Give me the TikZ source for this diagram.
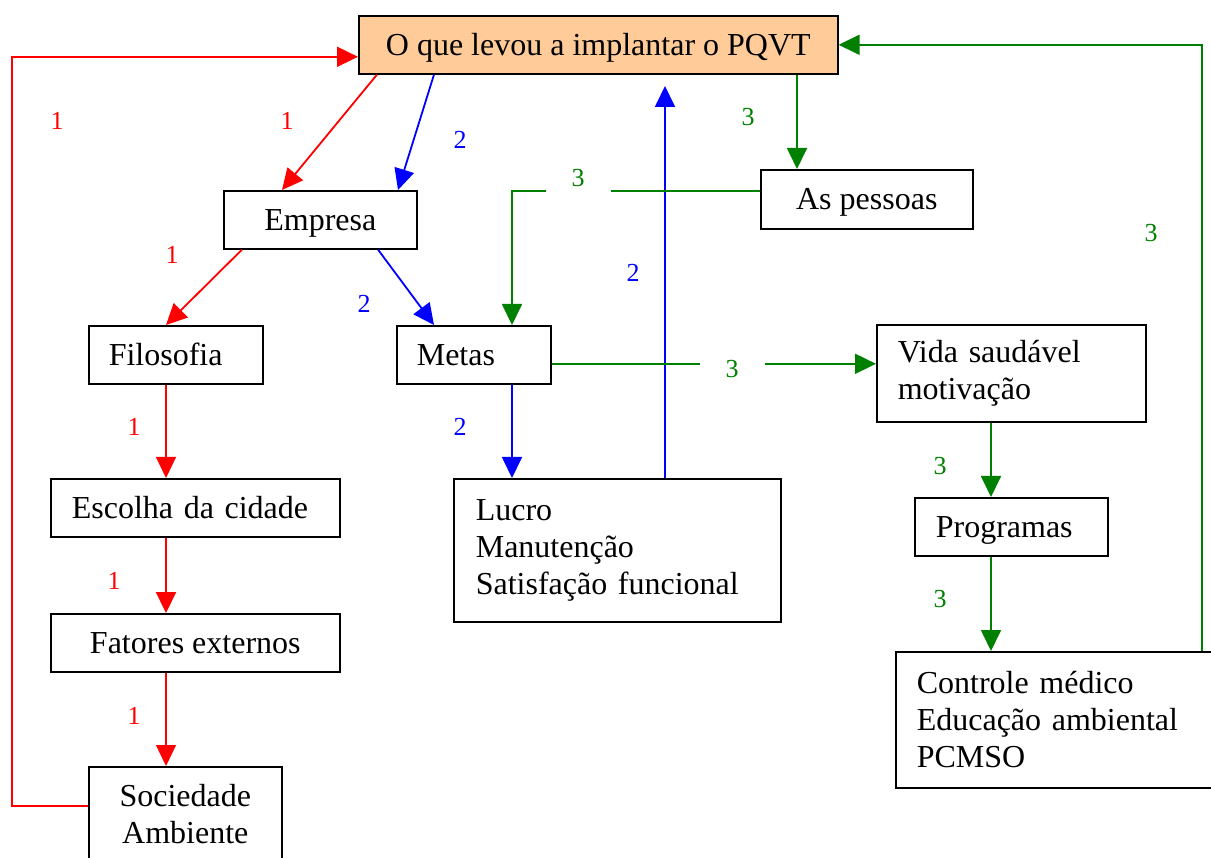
\documentclass[tikz,border=0pt]{standalone}
\usepackage{fontspec}
\setmainfont{Liberation Serif}
\usetikzlibrary{arrows.meta}
\definecolor{boxorange}{HTML}{FFCC99}
\definecolor{grn}{RGB}{0,128,0}
\newcommand\bxfont{\fontsize{32}{37}\selectfont}
\newcommand\lbfont{\fontsize{26}{30}\selectfont}

\begin{document}
\begin{tikzpicture}[x=1pt,y=-1pt,
  box/.style={draw, line width=1.6pt, font=\bxfont, anchor=north west, inner ysep=0pt},
  sbox/.style={box, text height=21pt, text depth=0pt},
  cbox/.style={sbox, align=center, inner xsep=0pt},
  lbox/.style={sbox, align=left, inner xsep=21pt},
  mcbox/.style={box, align=center, inner xsep=0pt},
  mlbox/.style={box, align=left, inner xsep=21pt},
  conn/.style={line width=1.8pt, -{Triangle[length=21pt,width=20pt]}},
  lbl/.style={font=\lbfont, inner sep=0pt},
]
\useasboundingbox (0,0) rectangle (1211,858);
\clip (0,0) rectangle (1211,858);

% boxes
\node[cbox, fill=boxorange, minimum width=479pt, minimum height=58pt] (top) at (358,15) {O que levou a implantar o PQVT};
\node[cbox, minimum width=193pt, minimum height=58pt] (emp) at (223,190) {Empresa};
\node[cbox, minimum width=212pt, minimum height=59pt] (pes) at (760,169) {As pessoas};
\node[lbox, inner xsep=20pt, text width=134pt, minimum height=58pt] (fil) at (88,325) {Filosofia};
\node[lbox, inner xsep=20pt, text width=114pt, minimum height=58pt] (metas) at (396,325) {Metas};
\node[mlbox, text width=227pt, minimum height=97pt] (vida) at (876,324) {Vida saudável\\motivação};
\node[lbox, text width=247pt, minimum height=58pt] (esc) at (50,478) {Escolha da cidade};
\node[mlbox, inner xsep=22pt, text width=283pt, minimum height=143pt] (lucro) at (453,478) {Lucro\\Manutenção\\Satisfação funcional};
\node[lbox, text width=151pt, minimum height=58pt] (prog) at (914,497) {Programas};
\node[cbox, minimum width=289pt, minimum height=58pt] (fat) at (50,613) {Fatores externos};
\node[mlbox, text width=285pt, minimum height=136pt] (ctl) at (895,651) {Controle médico\\Educação ambiental\\PCMSO};
\node[mcbox, minimum width=193pt, minimum height=94pt] (soc) at (88,766) {Sociedade\\Ambiente};

% path 1 (red)
\draw[conn, red] ([xshift=19pt]top.south west) -- ([xshift=59pt]emp.north west);
\draw[conn, red] ([xshift=19pt]emp.south west) -- ([xshift=78pt]fil.north west);
\draw[conn, red, line width=1.3pt] ([xshift=78pt]fil.south west) -- ([xshift=116pt]esc.north west);
\draw[conn, red, line width=2.3pt] ([xshift=116pt]esc.south west) -- ([xshift=116pt]fat.north west);
\draw[conn, red, line width=1.3pt] ([xshift=116pt]fat.south west) -- ([xshift=78pt]soc.north west);
\draw[conn, red] ([yshift=8pt]soc.west) -- ++(-76,0) |- ([yshift=-12pt]top.west);

% path 2 (blue)
\draw[conn, blue] ([xshift=76pt]top.south west) -- ([xshift=175pt]emp.north west);
\draw[conn, blue] ([xshift=155pt]emp.south west) -- ([xshift=38pt]metas.north west);
\draw[conn, blue] ([xshift=116pt]metas.south west) -- ([xshift=59pt]lucro.north west);
\coordinate (uptip) at (665,86);
\draw[conn, blue] ([xshift=212pt]lucro.north west) -- (uptip);

% path 3 (green)
\draw[conn, grn] ([xshift=439pt]top.south west) -- ([xshift=37pt]pes.north west);
\draw[conn, grn] ([yshift=8.5pt]pes.west) -| ([xshift=116pt]metas.north west);
\coordinate (metasout) at ([yshift=-9pt]metas.east);
\draw[conn, grn] (metasout) -- (metasout -| vida.west);
\draw[conn, grn] ([xshift=115pt]vida.south west) -- ([xshift=77pt]prog.north west);
\draw[conn, grn] ([xshift=77pt]prog.south west) -- ([xshift=96pt]ctl.north west);
\draw[conn, grn] ([xshift=307pt]ctl.north west) |- (top.east);

% step labels
\node[lbl, red] (r1) at (57,121) {1};
\node[lbl, red] (r2) at (287,121) {1};
\node[lbl, red] (r3) at (172,255) {1};
\node[lbl, red] (r4) at (134,427) {1};
\node[lbl, red] (r5) at (114,581) {1};
\node[lbl, red] (r6) at (134,716) {1};
\node[lbl, blue] (b1) at (460,140) {2};
\node[lbl, blue] (b2) at (364,304) {2};
\node[lbl, blue] (b3) at (633,273) {2};
\node[lbl, blue] (b4) at (460,427) {2};
\node[lbl, grn] (g1) at (748,117) {3};
\node[lbl, grn, fill=white, inner xsep=26pt, inner ysep=5pt] (g2) at (578,178) {3};
\node[lbl, grn, fill=white, inner xsep=26pt, inner ysep=5pt] (g3) at (732,369) {3};
\node[lbl, grn] (g4) at (940,466) {3};
\node[lbl, grn] (g5) at (940,599) {3};
\node[lbl, grn] (g6) at (1151,233) {3};
\end{tikzpicture}
\end{document}
